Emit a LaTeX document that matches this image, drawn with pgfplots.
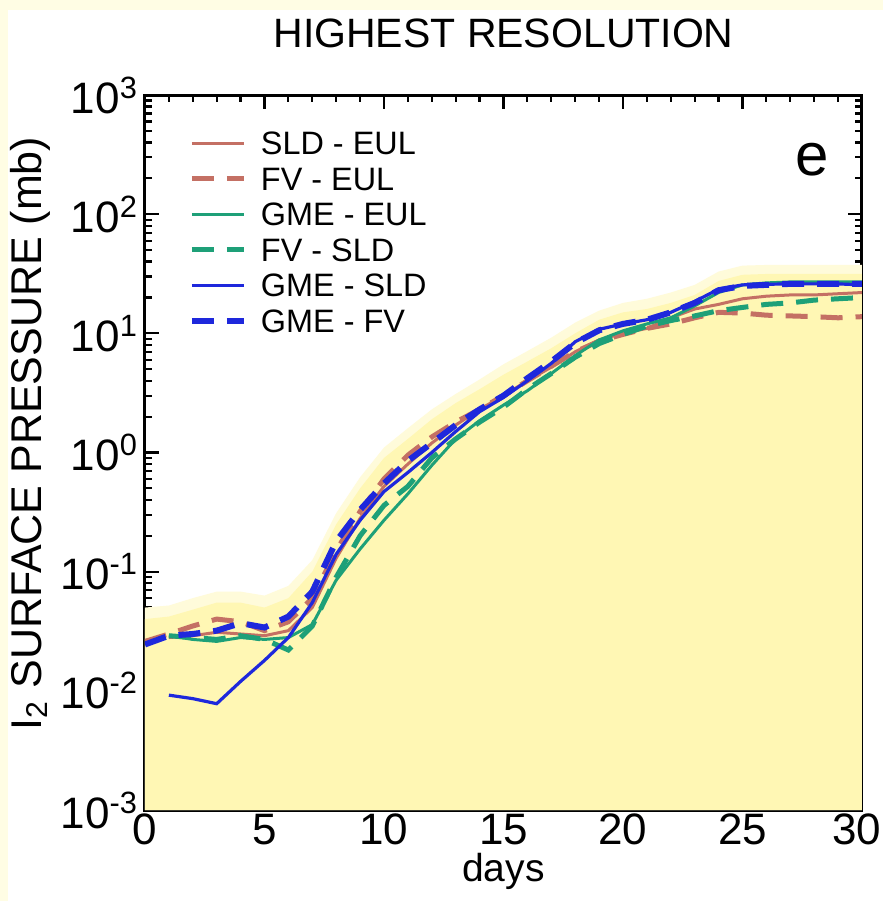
\documentclass[border=0pt]{standalone}
\usepackage{fontspec}
\setmainfont{Liberation Sans}
\usepackage{pgfplots}
\pgfplotsset{compat=1.18}
\definecolor{pagebg}{RGB}{255,253,228}
\definecolor{fillY}{RGB}{255,247,180}
\definecolor{fillY2}{RGB}{255,251,218}
\definecolor{brownc}{RGB}{196,112,100}
\definecolor{greenc}{RGB}{30,160,120}
\definecolor{bluec}{RGB}{30,40,220}
\begin{document}
\begin{tikzpicture}
\fill[pagebg] (-72.5pt,-45.5pt) rectangle (369pt,405pt);
\fill[white] (-68.5pt,-45.5pt) rectangle (369pt,400pt);
\begin{axis}[
  name=ax,
  width=358.5pt, height=357.5pt, scale only axis,
  at={(0pt,0pt)}, anchor=south west,
  ymode=log, xmin=0, xmax=30, ymin=1e-3, ymax=1e3,
  xtick={0,5,...,30}, xticklabels={0,5,10,15,20,25,\hspace*{-5pt}30},
  minor x tick num=4,
  ytick={1e-3,1e-2,1e-1,1,1e1,1e2,1e3},
  yticklabels={10\textsuperscript{-3},10\textsuperscript{-2},10\textsuperscript{-1},10\textsuperscript{0},10\textsuperscript{1},10\textsuperscript{2},10\textsuperscript{3}},
  minor ytick={2e-3,3e-3,4e-3,5e-3,6e-3,7e-3,8e-3,9e-3,2e-2,3e-2,4e-2,5e-2,6e-2,7e-2,8e-2,9e-2,0.2,0.3,0.4,0.5,0.6,0.7,0.8,0.9,2,3,4,5,6,7,8,9,20,30,40,50,60,70,80,90,200,300,400,500,600,700,800,900},
  tick align=inside, major tick length=7pt, minor tick length=3.5pt,
  every tick/.style={line width=1.1pt, black},
  axis line style={line width=1.5pt},
  tick label style={font=\fontsize{22}{24}\selectfont},
  xticklabel style={yshift=1.5pt},
  xlabel={days},
  xlabel style={font=\fontsize{19.5}{22}\selectfont, at={(axis description cs:0.5,0)}, anchor=center, yshift=-30.5pt},
  legend cell align=left,
  legend image code/.code={\draw[#1] (0pt,0pt) -- (26pt,0pt); \path (33pt,0pt);},
  legend style={at={(axis description cs:0.0608,0.9545)}, anchor=north west, draw=none, fill=none, inner sep=0pt,
    font=\fontsize{16.2}{18}\selectfont, row sep=2.25pt,
    nodes={inner sep=0pt, text height=13.5pt, text depth=2pt, anchor=west}},
]
% soft edge of the yellow region
\addplot[fill=fillY2, draw=none, forget plot] coordinates {
(0,0.05) (1,0.052) (2,0.06) (3,0.068) (4,0.068) (5,0.063) (6,0.076) (7,0.125) (8,0.31) (9,0.62) (10,1.1) (11,1.6) (12,2.3) (13,3.1) (14,4.1) (15,5.5) (16,7.1) (17,9.2) (18,12.3) (19,15.5) (20,18) (21,19.5) (22,22) (23,25.5) (24,33) (25,37) (26,37.5) (27,37.5) (28,37.5) (29,37.5) (30,37.5) (30,0.001) (0,0.001)};
\addplot[fill=fillY, draw=none, forget plot] coordinates {
(0,0.040) (1,0.042) (2,0.048) (3,0.055) (4,0.055) (5,0.05) (6,0.06) (7,0.10) (8,0.25) (9,0.5) (10,0.9) (11,1.3) (12,1.9) (13,2.6) (14,3.4) (15,4.5) (16,5.8) (17,7.5) (18,10) (19,13) (20,15) (21,16) (22,18) (23,21) (24,27.5) (25,31) (26,31.5) (27,31.5) (28,31.5) (29,31.5) (30,31.5) (30,0.001) (0,0.001)};
% SLD - EUL
\addplot[brownc, line width=1.5pt] coordinates {
(1,0.028) (2,0.029) (3,0.031) (4,0.030) (5,0.029) (6,0.032) (7,0.05) (8,0.13) (9,0.28) (10,0.52) (11,0.8) (12,1.2) (13,1.7) (14,2.3) (15,3.0) (16,4.0) (17,5.2) (18,7) (19,8.8) (20,10) (21,11) (22,13.5) (23,16) (24,17.5) (25,19.5) (26,20.5) (27,21) (28,21) (29,21.5) (30,22)};
\addlegendentry{SLD - EUL}
% FV - EUL
\addplot[brownc, line width=2.5pt, dash pattern=on 11pt off 6.5pt] coordinates {
(0,0.026) (1,0.030) (2,0.035) (3,0.040) (4,0.038) (5,0.032) (6,0.038) (7,0.06) (8,0.15) (9,0.32) (10,0.6) (11,0.95) (12,1.35) (13,1.8) (14,2.3) (15,3.0) (16,4.0) (17,5.3) (18,7) (19,8.6) (20,9.8) (21,11) (22,12) (23,13.5) (24,15) (25,14.8) (26,14.2) (27,14) (28,13.8) (29,13.5) (30,13.8)};
\addlegendentry{FV - EUL}
% GME - EUL
\addplot[greenc, line width=1.5pt] coordinates {
(1,0.029) (2,0.027) (3,0.026) (4,0.028) (5,0.027) (6,0.028) (7,0.036) (8,0.085) (9,0.155) (10,0.27) (11,0.45) (12,0.78) (13,1.3) (14,1.85) (15,2.5) (16,3.3) (17,4.6) (18,6.5) (19,8.8) (20,10.5) (21,12) (22,13.5) (23,17) (24,22) (25,25.5) (26,26.5) (27,27) (28,27) (29,27) (30,27)};
\addlegendentry{GME - EUL}
% FV - SLD
\addplot[greenc, line width=2.5pt, dash pattern=on 11pt off 6.5pt] coordinates {
(1,0.029) (2,0.028) (3,0.027) (4,0.029) (5,0.027) (6,0.022) (7,0.035) (8,0.09) (9,0.2) (10,0.36) (11,0.52) (12,0.9) (13,1.3) (14,1.8) (15,2.4) (16,3.4) (17,4.6) (18,6.3) (19,8.2) (20,9.8) (21,11.5) (22,12.8) (23,14) (24,15.5) (25,16.5) (26,17.5) (27,18) (28,19) (29,19.5) (30,20)};
\addlegendentry{FV - SLD}
% GME - SLD
\addplot[bluec, line width=1.6pt] coordinates {
(1,0.0092) (2,0.0086) (3,0.0078) (4,0.012) (5,0.018) (6,0.028) (7,0.055) (8,0.14) (9,0.27) (10,0.47) (11,0.68) (12,1.0) (13,1.5) (14,2.2) (15,2.9) (16,4.0) (17,5.6) (18,8.5) (19,10.8) (20,12) (21,13) (22,15) (23,18.5) (24,23.5) (25,25.5) (26,25.8) (27,26) (28,26) (29,26) (30,25.5)};
\addlegendentry{GME - SLD}
% GME - FV
\addplot[bluec, line width=3pt, dash pattern=on 11pt off 6.5pt] coordinates {
(0,0.0245) (1,0.029) (2,0.030) (3,0.032) (4,0.037) (5,0.034) (6,0.042) (7,0.068) (8,0.18) (9,0.33) (10,0.55) (11,0.85) (12,1.2) (13,1.7) (14,2.3) (15,3.0) (16,4.2) (17,5.8) (18,8.3) (19,10.6) (20,12) (21,13) (22,15) (23,18) (24,23) (25,25) (26,25.5) (27,26) (28,26) (29,26) (30,26)};
\addlegendentry{GME - FV}
\node[font=\fontsize{30}{32}\selectfont] at (axis description cs:0.930,0.909) {e};
\end{axis}
\node[font=\fontsize{20.5}{22}\selectfont] at ([yshift=31pt]ax.north) {HIGHEST RESOLUTION};
\node[font=\fontsize{21.5}{24}\selectfont, rotate=90] at ([xshift=-57.5pt, yshift=9.5pt]ax.west) {I\textsubscript{2} SURFACE PRESSURE (mb)};
\pgfresetboundingbox
\path[use as bounding box] (-72.5pt,-45.5pt) rectangle (369pt,405pt);
\end{tikzpicture}
\end{document}
